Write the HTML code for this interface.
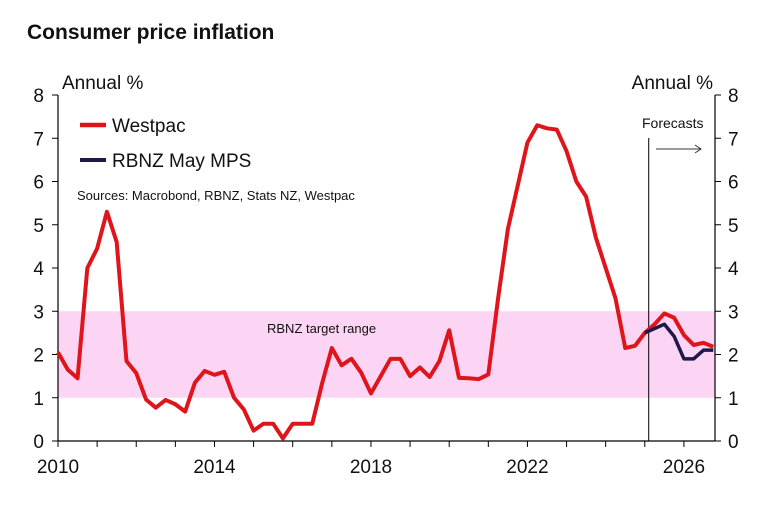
<!DOCTYPE html>
<html><head><meta charset="utf-8"><style>
body{margin:0;background:#fff;}
svg text{font-family:"Liberation Sans",Arial,sans-serif;fill:#111;}
</style></head><body>
<svg width="776" height="505" viewBox="0 0 776 505" xmlns="http://www.w3.org/2000/svg">
<text x="27" y="39" font-size="21" font-weight="bold">Consumer price inflation</text>
<g id="plot"></g>
</svg>
<script>
const years=["2010","2014","2018","2022","2026"];
const yTicks=[0,1,2,3,4,5,6,7,8];
const westpac=[2.05,1.65,1.45,4.0,4.45,5.3,4.6,1.85,1.57,0.96,0.77,0.95,0.85,0.68,1.35,1.62,1.53,1.6,1.0,0.73,0.24,0.4,0.4,0.06,0.4,0.4,0.4,1.33,2.15,1.75,1.9,1.58,1.1,1.5,1.9,1.9,1.5,1.7,1.48,1.85,2.56,1.46,1.45,1.43,1.54,3.3,4.9,5.9,6.9,7.3,7.23,7.2,6.7,6.0,5.65,4.7,4.0,3.3,2.15,2.2,2.5,2.7,2.95,2.85,2.45,2.22,2.27,2.18];
const rbnzStart=60;
const rbnz=[2.5,2.6,2.7,2.42,1.9,1.9,2.1,2.1];
const targetRange=[1,3];
const forecastIdx=60.4;

const NS="http://www.w3.org/2000/svg";
const g=document.getElementById('plot');
const X0=58,QW=9.78,Y0=441,YU=43.25,XR=715;
const xq=i=>X0+i*QW;
const xy=y=>X0+(y-2010)*4*QW;
const yv=v=>Y0-v*YU;
function el(t,a,p){const e=document.createElementNS(NS,t);for(const k in a)e.setAttribute(k,a[k]);(p||g).appendChild(e);return e;}

const band=el('rect',{x:X0,y:yv(targetRange[1]),width:XR-X0,height:yv(targetRange[0])-yv(targetRange[1]),fill:'#fdd5f4'});


const bt=el('text',{x:267,y:333,'font-size':13});bt.textContent='RBNZ target range';



// axes
const la=el('line',{x1:X0,y1:yv(8),x2:X0,y2:Y0,stroke:'#000','stroke-width':1.2});


const ra=el('line',{x1:XR,y1:yv(8),x2:XR,y2:Y0,stroke:'#000','stroke-width':1.2});


const xa=el('line',{x1:X0,y1:Y0,x2:XR,y2:Y0,stroke:'#000','stroke-width':1.2});


yTicks.forEach(v=>{
  el('line',{x1:X0-6,y1:yv(v),x2:X0,y2:yv(v),stroke:'#000'});
  el('line',{x1:XR,y1:yv(v),x2:XR+6,y2:yv(v),stroke:'#000'});
  const t=el('text',{x:44,y:yv(v)+7,'font-size':19,'text-anchor':'end'});t.textContent=v;
  
  
  const t2=el('text',{x:728,y:yv(v)+7,'font-size':19});t2.textContent=v;
  
  
});
for(let y=2010;y<=2026;y++){el('line',{x1:xy(y),y1:Y0,x2:xy(y),y2:Y0+6,stroke:'#000'});}
years.forEach(y=>{const t=el('text',{x:xy(+y),y:473,'font-size':19,'text-anchor':'middle'});t.textContent=y;
  
  });
const a1=el('text',{x:62,y:89,'font-size':19});a1.textContent='Annual %';


const a2=el('text',{x:713,y:89,'font-size':19,'text-anchor':'end'});a2.textContent='Annual %';



// forecast marker
const fl=el('line',{x1:xq(forecastIdx),y1:138,x2:xq(forecastIdx),y2:Y0,stroke:'#000','stroke-width':1});


const ft=el('text',{x:642,y:128,'font-size':14});ft.textContent='Forecasts';


const ar=el('path',{d:'M656 149 H701 M695 145 L701 149 L695 153',stroke:'#333',fill:'none','stroke-width':1});



// series
const wp=el('polyline',{points:westpac.map((v,i)=>xq(i)+','+yv(v)).join(' '),fill:'none',stroke:'#e0141b','stroke-width':4,'stroke-linejoin':'round'});


const rb=el('polyline',{points:rbnz.map((v,i)=>xq(rbnzStart+i)+','+yv(v)).join(' '),fill:'none',stroke:'#1c1a4a','stroke-width':3.5,'stroke-linejoin':'round'});



// legend
const l1=el('line',{x1:80,y1:125,x2:106,y2:125,stroke:'#e0141b','stroke-width':4.5});


const lt1=el('text',{x:112,y:132,'font-size':19});lt1.textContent='Westpac';


const l2=el('line',{x1:80,y1:160,x2:106,y2:160,stroke:'#1c1a4a','stroke-width':4});


const lt2=el('text',{x:112,y:167,'font-size':19});lt2.textContent='RBNZ May MPS';


const src=el('text',{x:77,y:200,'font-size':13});src.textContent='Sources: Macrobond, RBNZ, Stats NZ, Westpac';


</script>
</body></html>
